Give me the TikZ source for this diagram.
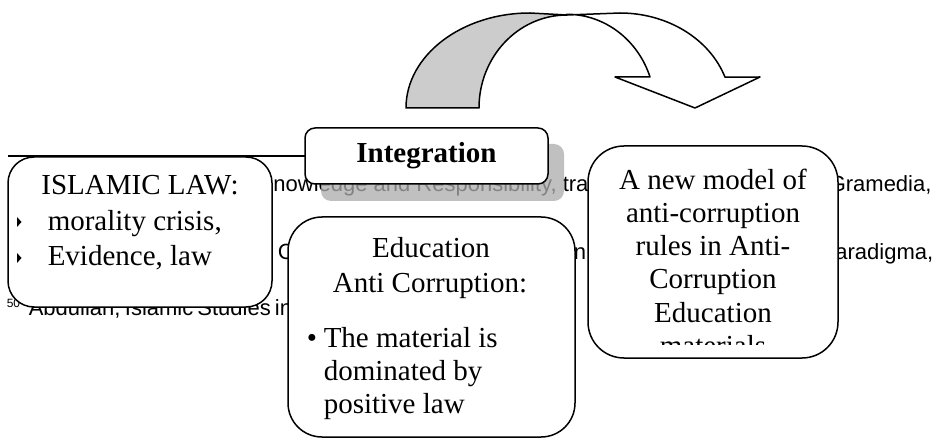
\documentclass[tikz,border=0pt]{standalone}
\usepackage{fontspec}
\setmainfont{Liberation Serif}
\newfontfamily\notefont{Liberation Sans}
\usetikzlibrary{positioning}
\tikzset{
  roundbox/.style={draw, fill=white, rounded corners=#1, inner sep=0pt},
  boxshadow/.style={fill={rgb,255:red,172;green,172;blue,172}, fill opacity=0.76,
    rounded corners=10pt, inner sep=0pt},
  boxtext/.style={inner sep=0pt, font=\fontsize{29}{33}\selectfont},
  notetext/.style={inner sep=0pt, anchor=base west, font=\notefont\fontsize{22}{25}\selectfont},
  bandback/.style={draw, fill=black!20},
  bandfront/.style={draw, fill=white}
}

\begin{document}
\begin{tikzpicture}[x=1pt, y=-1pt, line width=1.5pt, line join=round]
  \useasboundingbox (0,0) rectangle (934,438);

  % footnote lines behind the boxes
  \node[notetext] (note1a) at (258,192) {Knowledge and Responsibility, tra};
  \node[notetext] (note1b) at (828,192) {Gramedia,};
  \node[notetext] (note2a) at (277,260) {C};
  \node[notetext] (note2b) at (573,260) {n};
  \node[notetext] (note2c) at (820,260) {Paradigma,};
  \node[notetext, font=\notefont\fontsize{12}{14}\selectfont] (note3n) at (6,307) {50};
  \node[notetext] (note3a) at (28,315) {\makebox[259pt][s]{Abdullah, Islamic Studies in}};

  % curved arrow
  \path[bandback] (406,108) arc[start angle=180, end angle=270, x radius=124, y radius=95]
    -- (567,15) arc[start angle=270, end angle=180, x radius=88, y radius=93] -- cycle;
  \path[bandfront] (567,15) -- (620,13)
    arc[start angle=270, end angle=341, x radius=111, y radius=95]
    -- (760,77) -- (695,108) -- (615,77) -- (650,77)
    arc[start angle=341, end angle=270, x radius=88, y radius=93] -- cycle;

  % islamic law
  \node[roundbox=26pt, minimum width=264pt, minimum height=150pt] (islam) at (140,232) {};
  \node[boxtext, anchor=base] (islamhead) at (140,195) {ISLAMIC LAW:};
  \foreach \y in {222,258}
    \fill (17,\y-5) -- (21.5,\y) -- (17,\y+5) -- cycle;
  \node[boxtext, anchor=base west] (islam1) at (47,231) {morality crisis,};
  \node[boxtext, anchor=base west] (islam2) at (47,266) {Evidence, law};
  \draw[line width=2pt] (8,156) -- (322,156);

  % integration
  \node[boxshadow, minimum width=243pt, minimum height=57pt] (integshadow) at (442.5,172.5) {};
  \node[roundbox=10pt, minimum width=243pt, minimum height=56pt, boxtext,
    font=\bfseries\fontsize{29}{33}\selectfont] (integ) at (426.5,156) {Integration};

  % new model
  \node[roundbox=36pt, minimum width=250pt, minimum height=212pt] (model) at (713,252) {};
  \begin{scope}
    \clip (590,150) rectangle (836,344);
    \foreach \txt [count=\i from 0] in {A new model of, anti-corruption, rules in Anti-,
        Corruption, Education, materials}
      \node[boxtext, anchor=base] (model\i) at (713,{190+33*\i}) {\txt};
  \end{scope}

  % education
  \node[roundbox=34pt, minimum width=287pt, minimum height=220pt] (edu) at (431.5,327) {};
  \node[boxtext, anchor=base] (eduhead1) at (431,258) {Education};
  \node[boxtext, anchor=base] (eduhead2) at (430,292) {Anti Corruption:};
  \node[boxtext, anchor=base west] (edubullet) at (306,347) {\textbullet};
  \foreach \txt [count=\i from 0] in {The material is, dominated by, positive law}
    \node[boxtext, anchor=base west] (edu\i) at (323,{347+33*\i}) {\txt};
\end{tikzpicture}
\end{document}
